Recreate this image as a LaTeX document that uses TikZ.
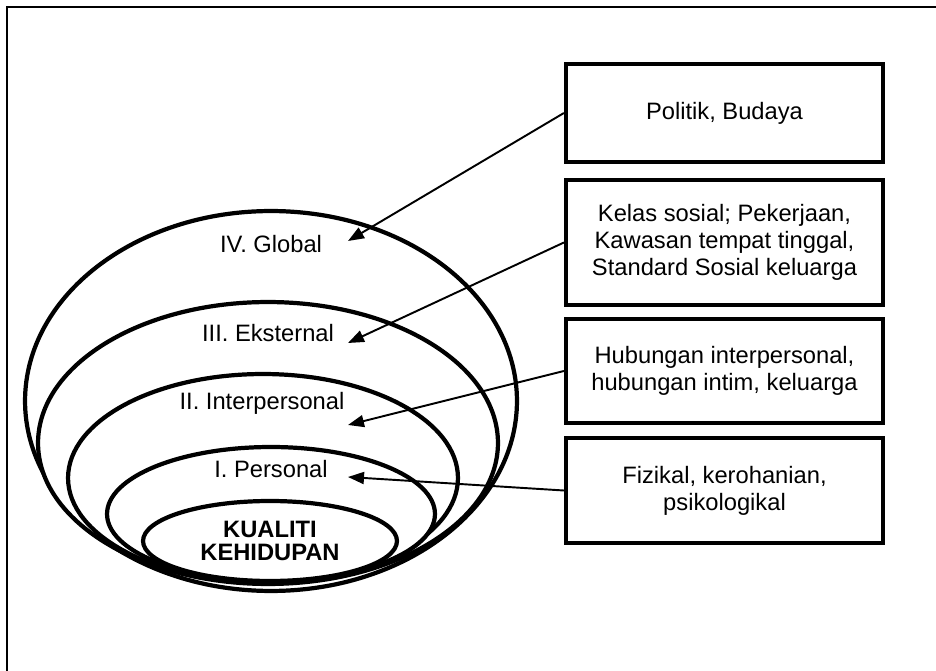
\documentclass[tikz,border=0pt]{standalone}
\usepackage{fontspec}
\setmainfont{Liberation Sans}
\usetikzlibrary{shapes.geometric,arrows.meta}

\begin{document}
\begin{tikzpicture}[x=0.02cm, y=-0.02cm,
    font=\fontsize{13.5}{15.4}\selectfont,
    layer/.style={draw, ellipse, line width=2.4pt, fill=white, inner sep=0pt},
    infobox/.style={draw, rectangle, line width=2.4pt, align=center, minimum width=6.34cm, inner sep=0pt},
    link/.style={line width=1.1pt, -{Triangle[length=0.32cm, width=0.24cm]}}]
    \useasboundingbox (0,0) rectangle (936,671);
    \draw [line width=1.1pt] (936,7) -- (7,7) -- (7,671);

    % Nodes for layers
    \node [layer, minimum width=9.84cm, minimum height=7.6cm] (global) at (271,401) {};
    \node [layer, minimum width=9.2cm, minimum height=5.64cm] (eksternal) at (268,443) {};
    \node [layer, minimum width=7.8cm, minimum height=4.16cm] (interpersonal) at (263,478) {};
    \node [layer, minimum width=6.56cm, minimum height=2.68cm] (personal) at (271,514) {};
    \node [layer, minimum width=5.08cm, minimum height=1.6cm, align=center,
           font=\fontsize{13.5}{13}\selectfont\bfseries] (kualiti) at (270,541) {KUALITI\\KEHIDUPAN};

    % Labels for layers
    \node [anchor=base] (lglobal) at (271,253) {IV. Global};
    \node [anchor=base] (leksternal) at (268,342) {III. Eksternal};
    \node [anchor=base] (linterpersonal) at (262,410) {II. Interpersonal};
    \node [anchor=base] (lpersonal) at (271,478) {I. Personal};

    % Nodes for factors
    \node [infobox, minimum height=1.96cm] (politik) at (724.5,113) {Politik, Budaya};
    \node [infobox, minimum height=2.5cm] (kelas) at (724.5,242.5) {Kelas sosial; Pekerjaan,\\Kawasan tempat tinggal,\\Standard Sosial keluarga};
    \node [infobox, minimum height=2.08cm] (hubungan) at (724.5,371) {Hubungan interpersonal,\\hubungan intim, keluarga};
    \node [infobox, minimum height=2.1cm] (fizikal) at (724.5,490.5) {Fizikal, kerohanian,\\psikologikal};

    % Arrow ends
    \coordinate (tipglobal) at (348,241);
    \coordinate (tipeksternal) at (348,343);
    \coordinate (tipinterpersonal) at (348,425);
    \coordinate (tippersonal) at (348,477);

    % Arrows for factors
    \draw [link] (politik.west) -- (tipglobal);
    \draw [link] (kelas.west) -- (tipeksternal);
    \draw [link] (hubungan.west) -- (tipinterpersonal);
    \draw [link] (fizikal.west) -- (tippersonal);
\end{tikzpicture}
\end{document}
